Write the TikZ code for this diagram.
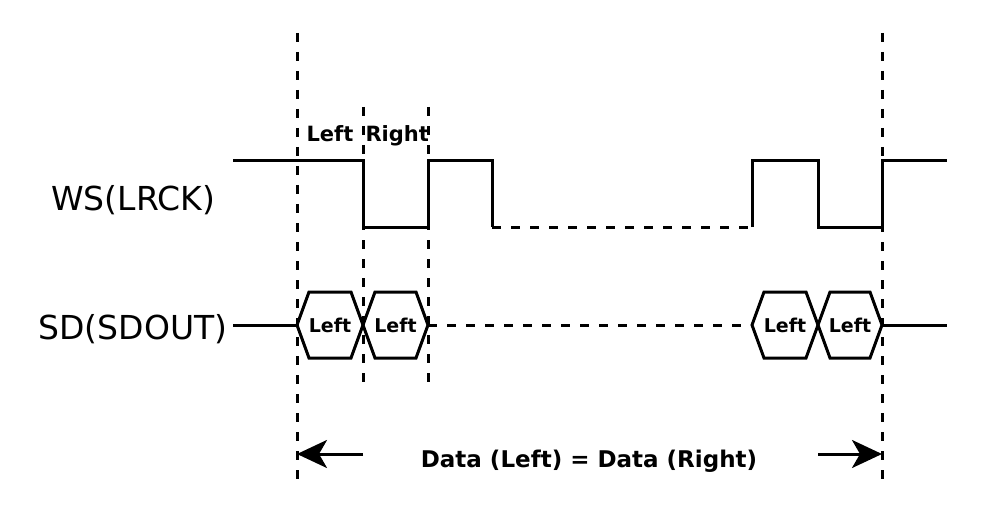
\documentclass[tikz,border=0pt]{standalone}
\usepackage{fontspec}
\setmainfont{DejaVu Sans}
\usetikzlibrary{arrows.meta}

\begin{document}
\begin{tikzpicture}[x=1pt,y=-1pt,line width=3pt,
    guide/.style={dash pattern=on 9pt off 10pt},
    sig/.style={font=\fontsize{33}{33}\selectfont,inner sep=0pt,anchor=base},
    lbl/.style={font=\fontsize{#1}{#1}\selectfont\bfseries,inner sep=0pt}]
  \useasboundingbox (0,0) rectangle (994,524);
  % signal names
  \node[sig] (ws) at (133,211) {WS(LRCK)};
  \node[sig] (sd) at (133,339) {SD(SDOUT)};
  % vertical guides
  \foreach \x/\a/\b in {297/33/487, 363/107/390, 428/107/390, 882/33/487}
    \draw[guide] (\x,\a) -- (\x,\b);
  \node[lbl=21,anchor=base west] (left) at (305,142) {Left};
  \node[lbl=21,anchor=base west] (right) at (364,142) {Right};
  % word select
  \draw (233,161) -| (363,227) -| (428,161) -| (492,227);
  \draw[guide] (492,227) -- (752,227);
  \draw (752,227) |- (818,161) |- (882,227) |- (947,161);
  % serial data
  \draw (233,325) -- (297,325);
  \draw[guide] (428,325) -- (752,325);
  \draw (882,325) -- (947,325);
  \foreach \a/\b/\name in {297/363/da, 363/428/db, 752/818/dc, 818/882/dd}
  {
    \draw[line join=miter] (\a,325) -- ({\a+12},292) -- ({\b-12},292) -- (\b,325)
      -- ({\b-12},358) -- ({\a+12},358) -- cycle;
    \node[lbl=19] (\name) at ({(\a+\b)/2},325) {Left};
  }
  % span
  \coordinate (s1) at (363,454);
  \coordinate (t1) at (297,454);
  \coordinate (s2) at (818,454);
  \coordinate (t2) at (882,454);
  \node[lbl=23,anchor=base] (eq) at (589,467) {Data (Left) = Data (Right)};
  \foreach \source/\dest in {s1/t1, s2/t2}
    \path[draw,-{Stealth[length=30pt,width=28pt,inset=8pt]}] (\source) -- (\dest);
\end{tikzpicture}
\end{document}
